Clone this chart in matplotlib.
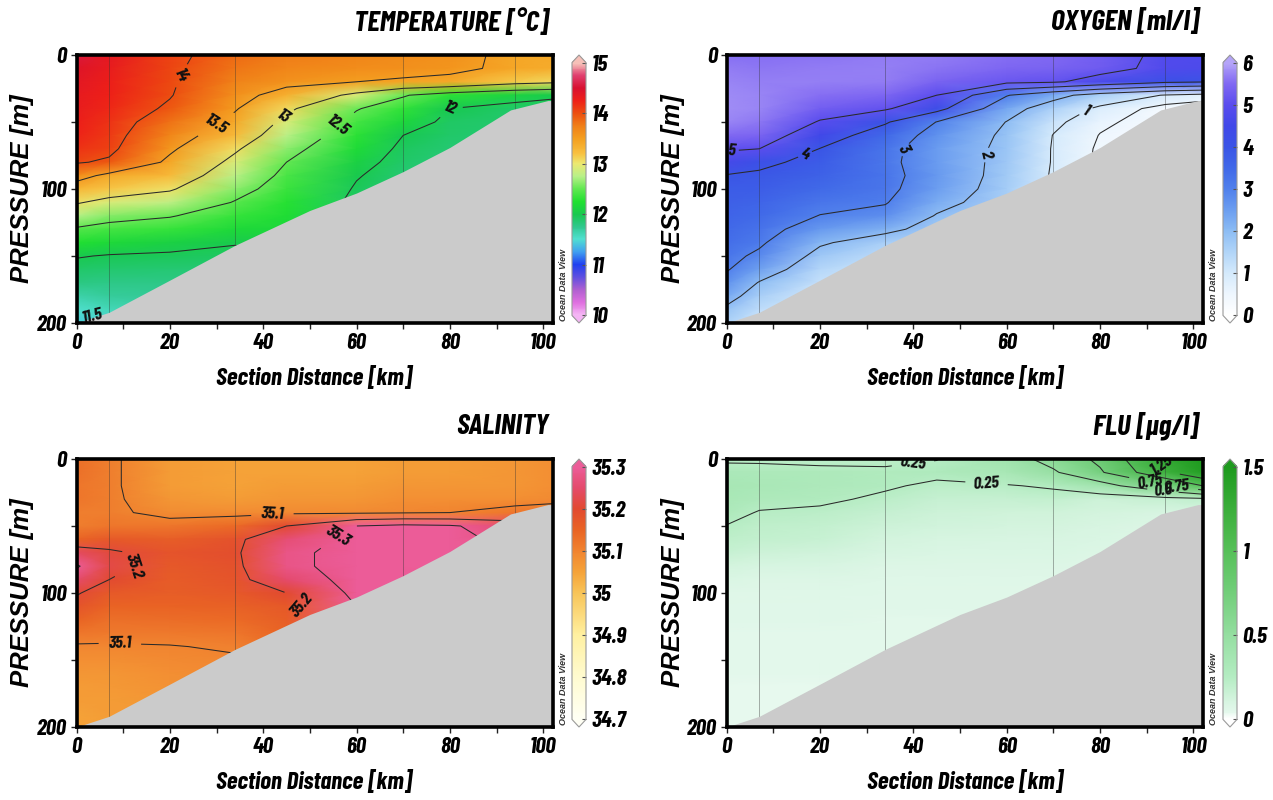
import numpy as np
import matplotlib
matplotlib.use("Agg")
import matplotlib.pyplot as plt
from matplotlib.colors import LinearSegmentedColormap, Normalize
from matplotlib.cm import ScalarMappable
from matplotlib.ticker import MultipleLocator, FixedLocator

# ---------------- data ----------------
distance_km = [0, 7, 20, 34, 45, 60, 70, 80, 94, 102]
pressure_m = [0, 10, 20, 30, 40, 50, 60, 70, 80, 90, 100,
              110, 120, 130, 140, 150, 160, 170, 180, 190, 200]
station_km = [7, 34, 70, 94]
bottom_km = [0, 7, 20, 34, 50, 60, 70, 80, 93, 101, 102]
bottom_m = [200, 192, 168, 142, 116, 103, 87, 69, 41, 34, 34]

# one profile (0..200 m) per station in distance_km
temperature = [
    [14.55, 14.42, 14.36, 14.33, 14.3, 14.27, 14.22, 14.15, 14.03, 13.65, 13.3, 13.03, 12.75, 12.46, 12.25, 12.02, 11.9, 11.8, 11.66, 11.52, 11.42],
    [14.35, 14.3, 14.27, 14.24, 14.2, 14.15, 14.12, 14.08, 13.95, 13.4, 13.18, 12.9, 12.6, 12.4, 12.18, 11.98, 11.88, 11.78, 11.7, 11.6, 11.48],
    [14.08, 14.06, 14.04, 14.02, 13.95, 13.82, 13.7, 13.56, 13.42, 13.25, 13.04, 12.78, 12.52, 12.34, 12.1, 11.96, 11.86, 11.78, 11.72, 11.66, 11.6],
    [13.85, 13.8, 13.72, 13.63, 13.53, 13.4, 13.25, 13.05, 12.9, 12.76, 12.62, 12.48, 12.34, 12.18, 12.02, 11.92, 11.86, 11.8, 11.75, 11.7, 11.65],
    [13.75, 13.7, 13.6, 13.35, 13.08, 12.9, 12.76, 12.62, 12.5, 12.42, 12.35, 12.28, 12.22, 12.16, 12.1, 12.04, 11.98, 11.94, 11.9, 11.86, 11.82],
    [13.7, 13.65, 13.5, 12.9, 12.52, 12.4, 12.3, 12.2, 12.1, 12.02, 11.97, 11.93, 11.9, 11.88, 11.86, 11.84, 11.82, 11.8, 11.78, 11.76, 11.74],
    [13.65, 13.62, 13.45, 12.53, 12.32, 12.15, 12.0, 11.94, 11.9, 11.87, 11.85, 11.83, 11.81, 11.8, 11.79, 11.78, 11.77, 11.76, 11.75, 11.74, 11.73],
    [13.6, 13.58, 13.4, 12.3, 12.0, 11.93, 11.9, 11.87, 11.85, 11.83, 11.82, 11.81, 11.8, 11.79, 11.78, 11.77, 11.76, 11.75, 11.74, 11.73, 11.72],
    [13.42, 13.42, 13.15, 12.12, 11.9, 11.88, 11.86, 11.85, 11.84, 11.83, 11.82, 11.81, 11.8, 11.79, 11.78, 11.77, 11.76, 11.75, 11.74, 11.73, 11.72],
    [13.4, 13.38, 13.08, 12.05, 11.88, 11.86, 11.85, 11.84, 11.83, 11.82, 11.81, 11.8, 11.79, 11.78, 11.77, 11.76, 11.75, 11.74, 11.73, 11.72, 11.71],
]
oxygen = [
    [5.55, 5.65, 5.72, 5.78, 5.8, 5.72, 5.5, 5.08, 4.6, 3.95, 3.8, 3.7, 3.6, 3.48, 3.36, 3.22, 3.06, 2.7, 2.3, 1.85, 1.5],
    [5.55, 5.62, 5.68, 5.72, 5.72, 5.62, 5.42, 5.0, 4.15, 3.9, 3.75, 3.6, 3.45, 3.3, 3.12, 2.85, 2.45, 1.95, 1.6, 1.3, 1.1],
    [5.6, 5.65, 5.68, 5.55, 5.3, 4.95, 4.5, 3.98, 3.8, 3.65, 3.45, 3.22, 2.98, 2.6, 2.1, 1.75, 1.45, 1.2, 1.0, 0.9, 0.8],
    [5.65, 5.68, 5.65, 5.45, 5.1, 4.1, 3.5, 3.25, 3.2, 3.25, 3.2, 3.05, 2.75, 2.2, 1.6, 1.3, 1.1, 0.95, 0.85, 0.8, 0.75],
    [5.65, 5.6, 5.4, 5.0, 4.3, 2.98, 2.7, 2.55, 2.55, 2.6, 2.5, 2.25, 1.95, 1.7, 1.5, 1.3, 1.1, 1.0, 0.9, 0.85, 0.8],
    [5.55, 5.45, 5.2, 3.05, 2.35, 1.98, 1.85, 1.8, 1.75, 1.7, 1.65, 1.6, 1.55, 1.5, 1.45, 1.4, 1.35, 1.3, 1.25, 1.2, 1.15],
    [5.5, 5.4, 5.1, 2.3, 1.55, 1.15, 0.98, 0.95, 0.95, 0.92, 0.9, 0.88, 0.86, 0.84, 0.82, 0.8, 0.78, 0.76, 0.74, 0.72, 0.7],
    [5.3, 5.25, 4.7, 1.6, 0.85, 0.6, 0.48, 0.42, 0.4, 0.38, 0.36, 0.35, 0.34, 0.33, 0.32, 0.31, 0.3, 0.3, 0.3, 0.3, 0.3],
    [4.85, 4.8, 4.15, 0.95, 0.3, 0.25, 0.22, 0.2, 0.2, 0.2, 0.2, 0.2, 0.2, 0.2, 0.2, 0.2, 0.2, 0.2, 0.2, 0.2, 0.2],
    [4.8, 4.75, 4.05, 0.75, 0.2, 0.18, 0.17, 0.16, 0.16, 0.16, 0.16, 0.16, 0.16, 0.16, 0.16, 0.16, 0.16, 0.16, 0.16, 0.16, 0.16],
]
salinity = [
    [35.13, 35.13, 35.12, 35.12, 35.11, 35.11, 35.15, 35.24, 35.31, 35.25, 35.205, 35.18, 35.15, 35.12, 35.095, 35.08, 35.07, 35.06, 35.06, 35.05, 35.05],
    [35.11, 35.11, 35.11, 35.11, 35.11, 35.12, 35.17, 35.21, 35.22, 35.2, 35.17, 35.15, 35.13, 35.115, 35.095, 35.08, 35.07, 35.065, 35.06, 35.06, 35.055],
    [35.06, 35.06, 35.06, 35.07, 35.085, 35.12, 35.16, 35.18, 35.17, 35.165, 35.16, 35.15, 35.135, 35.115, 35.098, 35.09, 35.08, 35.075, 35.07, 35.065, 35.06],
    [35.05, 35.05, 35.05, 35.06, 35.085, 35.14, 35.185, 35.19, 35.185, 35.18, 35.17, 35.155, 35.14, 35.12, 35.105, 35.095, 35.09, 35.085, 35.08, 35.08, 35.08],
    [35.05, 35.05, 35.06, 35.07, 35.09, 35.2, 35.26, 35.28, 35.28, 35.25, 35.2, 35.17, 35.16, 35.15, 35.14, 35.13, 35.12, 35.11, 35.1, 35.1, 35.1],
    [35.05, 35.05, 35.06, 35.07, 35.09, 35.3, 35.32, 35.33, 35.33, 35.33, 35.32, 35.3, 35.28, 35.26, 35.24, 35.22, 35.2, 35.2, 35.2, 35.2, 35.2],
    [35.06, 35.06, 35.07, 35.08, 35.095, 35.32, 35.33, 35.33, 35.33, 35.32, 35.3, 35.28, 35.26, 35.24, 35.22, 35.2, 35.2, 35.2, 35.2, 35.2, 35.2],
    [35.06, 35.06, 35.07, 35.08, 35.1, 35.31, 35.32, 35.32, 35.3, 35.28, 35.26, 35.24, 35.22, 35.2, 35.2, 35.2, 35.2, 35.2, 35.2, 35.2, 35.2],
    [35.07, 35.07, 35.07, 35.08, 35.12, 35.25, 35.28, 35.28, 35.27, 35.26, 35.24, 35.22, 35.2, 35.2, 35.2, 35.2, 35.2, 35.2, 35.2, 35.2, 35.2],
    [35.08, 35.08, 35.08, 35.09, 35.12, 35.2, 35.22, 35.22, 35.22, 35.22, 35.22, 35.2, 35.2, 35.2, 35.2, 35.2, 35.2, 35.2, 35.2, 35.2, 35.2],
]
flu = [
    [0.22, 0.32, 0.35, 0.33, 0.3, 0.245, 0.21, 0.17, 0.12, 0.09, 0.07, 0.06, 0.06, 0.05, 0.05, 0.05, 0.05, 0.04, 0.04, 0.04, 0.04],
    [0.22, 0.31, 0.33, 0.3, 0.24, 0.21, 0.19, 0.15, 0.11, 0.08, 0.07, 0.06, 0.06, 0.05, 0.05, 0.05, 0.05, 0.04, 0.04, 0.04, 0.04],
    [0.2, 0.3, 0.3, 0.28, 0.22, 0.19, 0.17, 0.13, 0.1, 0.08, 0.07, 0.06, 0.06, 0.05, 0.05, 0.05, 0.05, 0.04, 0.04, 0.04, 0.04],
    [0.21, 0.28, 0.27, 0.22, 0.18, 0.15, 0.12, 0.1, 0.08, 0.07, 0.06, 0.06, 0.05, 0.05, 0.05, 0.05, 0.04, 0.04, 0.04, 0.04, 0.04],
    [0.245, 0.29, 0.22, 0.18, 0.15, 0.13, 0.11, 0.09, 0.08, 0.07, 0.06, 0.06, 0.05, 0.05, 0.05, 0.04, 0.04, 0.04, 0.04, 0.04, 0.04],
    [0.4, 0.35, 0.24, 0.18, 0.14, 0.12, 0.1, 0.09, 0.08, 0.07, 0.06, 0.06, 0.05, 0.05, 0.05, 0.04, 0.04, 0.04, 0.04, 0.04, 0.04],
    [0.58, 0.47, 0.27, 0.19, 0.14, 0.12, 0.1, 0.09, 0.08, 0.07, 0.06, 0.06, 0.05, 0.05, 0.05, 0.04, 0.04, 0.04, 0.04, 0.04, 0.04],
    [0.8, 0.72, 0.4, 0.15, 0.12, 0.1, 0.09, 0.08, 0.07, 0.06, 0.06, 0.05, 0.05, 0.05, 0.04, 0.04, 0.04, 0.04, 0.04, 0.04, 0.04],
    [1.32, 1.22, 0.72, 0.18, 0.1, 0.08, 0.07, 0.06, 0.06, 0.05, 0.05, 0.05, 0.04, 0.04, 0.04, 0.04, 0.04, 0.04, 0.04, 0.04, 0.04],
    [1.5, 1.45, 1.0, 0.2, 0.1, 0.08, 0.07, 0.06, 0.06, 0.05, 0.05, 0.05, 0.04, 0.04, 0.04, 0.04, 0.04, 0.04, 0.04, 0.04, 0.04],
]

titles = ["TEMPERATURE [°C]", "OXYGEN [ml/l]", "SALINITY", "FLU [µg/l]"]
cbar_ticks = [[10, 11, 12, 13, 14, 15], [0, 1, 2, 3, 4, 5, 6],
              [34.7, 34.8, 34.9, 35.0, 35.1, 35.2, 35.3], [0, 0.5, 1, 1.5]]
contour_levels = [[11.5, 12, 12.5, 13, 13.5, 14], [0.5, 1, 2, 3, 4, 5],
                  [35.1, 35.2, 35.3], [0.25, 0.5, 0.75, 1, 1.25]]
x_ticks = [0, 20, 40, 60, 80, 100]
y_ticks = [0, 100, 200]

# ---------------- styles ----------------
temp_stops = [(10.0, "#f4b4f4"), (10.25, "#e070e0"), (10.5, "#b060d0"), (10.75, "#6050e0"),
              (11.0, "#2040f0"), (11.25, "#40a0f0"), (11.5, "#50e0d0"), (11.75, "#30c890"),
              (12.0, "#18c850"), (12.25, "#20e030"), (12.5, "#60e850"), (12.75, "#b8f088"),
              (13.0, "#ece870"), (13.2, "#f8c040"), (13.5, "#f4a020"), (13.75, "#f08018"),
              (14.0, "#ec5010"), (14.25, "#ee2018"), (14.5, "#d81030"), (14.75, "#e04070"),
              (15.0, "#f6c0b8")]
oxy_stops = [(0, "#ffffff"), (0.5, "#eef6fe"), (1.0, "#d4eafc"), (1.5, "#b0d4f8"),
             (2.0, "#8cbcf4"), (2.5, "#6c9ef0"), (3.0, "#5080ec"), (3.5, "#4068e8"),
             (4.0, "#3a54e6"), (4.5, "#4048e8"), (5.0, "#5a4cee"), (5.5, "#8068f2"),
             (6.0, "#b4a4f8")]
sal_stops = [(34.7, "#fffff4"), (34.8, "#fffbd0"), (34.9, "#fff0a0"), (35.0, "#f8c458"),
             (35.05, "#f5a238"), (35.1, "#f18430"), (35.15, "#e96424"), (35.2, "#e24a30"),
             (35.25, "#e44a6c"), (35.3, "#ec5c98")]
flu_stops = [(0, "#ffffff"), (0.04, "#e4f8ec"), (0.1, "#d8f5e2"), (0.25, "#b4ecc2"),
             (0.5, "#94dea0"), (0.75, "#72ce7a"), (1.0, "#56c058"), (1.25, "#3aae3a"),
             (1.5, "#1e9a1e")]


def make_cmap(name, stops):
    lo, hi = stops[0][0], stops[-1][0]
    cm = LinearSegmentedColormap.from_list(
        name, [((v - lo) / (hi - lo), c) for v, c in stops])
    cm.set_under(stops[0][1])
    cm.set_over(stops[-1][1])
    return cm, lo, hi


NARROW = ["Barlow Condensed", "Liberation Sans", "DejaVu Sans"]
WIDE = ["Liberation Sans", "DejaVu Sans"]

fields = [temperature, oxygen, salinity, flu]
stops_all = [temp_stops, oxy_stops, sal_stops, flu_stops]
label_pos = [
    [(20, 11), (29, 47), (44, 45), (55.7, 52), (79.6, 38), (3.5, 194)],
    [(1, 72), (17, 76), (35.5, 65), (52.5, 72), (77, 42)],
    [(9.3, 137), (42, 43), (15.4, 78), (48.9, 106), (56, 57)],
    [(40, 6), (55.7, 17), (93.6, 3), (90.7, 17), (93.5, 23), (96.5, 21)],
]

W, H = 1273, 800
fig = plt.figure(figsize=(W / 100, H / 100), dpi=100)

ax_left = [76.5, 726.7]
ax_top = [55, 459]
ax_w, ax_h = 476, 268
cb_left = [572, 1223]

X, Y = np.meshgrid(distance_km, pressure_m)

for i in range(4):
    col, row = i % 2, i // 2
    l = ax_left[col] / W
    b = 1 - (ax_top[row] + ax_h) / H
    ax = fig.add_axes([l, b, ax_w / W, ax_h / H])
    cmap, lo, hi = make_cmap("c%d" % i, stops_all[i])
    Z = np.array(fields[i]).T
    ax.pcolormesh(X, Y, Z, shading="gouraud", cmap=cmap, vmin=lo, vmax=hi, zorder=1)
    cs = ax.contour(X, Y, Z, levels=contour_levels[i], colors="#2a2a2a",
                    linewidths=0.75, zorder=2)
    labs = ax.clabel(cs, manual=label_pos[i], inline=True, inline_spacing=2,
                     fmt=lambda v: f"{v:g}", fontsize=12.5)
    for t in labs:
        t.set_fontfamily(NARROW)
        t.set_fontweight("bold")
        t.set_fontstyle("italic")
        t.set_color("#111111")
        t.set_zorder(6)
    ax.vlines(station_km, 0, 200, colors="#333333", linewidths=0.6, alpha=0.45, zorder=3)
    ax.fill_between(bottom_km, bottom_m, 200, color="#cbcbcb", lw=0, zorder=5)
    ax.set_xlim(0, 102)
    ax.set_ylim(200, 0)
    ax.xaxis.set_major_locator(FixedLocator(x_ticks))
    ax.xaxis.set_minor_locator(MultipleLocator(10))
    ax.yaxis.set_major_locator(FixedLocator(y_ticks))
    ax.yaxis.set_minor_locator(MultipleLocator(50))
    ax.tick_params(which="both", direction="out", length=4, width=1, color="#222222")
    ax.tick_params(which="major", labelsize=16.5, pad=3)
    for lab in ax.get_xticklabels() + ax.get_yticklabels():
        lab.set_fontfamily(NARROW)
        lab.set_fontweight("bold")
        lab.set_fontstyle("italic")
    for s in ax.spines.values():
        s.set_linewidth(2.6)
        s.set_zorder(10)

    # title
    fig.text((ax_left[col] + ax_w - 4) / W, 1 - (ax_top[row] - 33) / H, titles[i],
             ha="right", va="center", fontsize=21, fontweight="bold",
             fontstyle="italic", family=NARROW)
    # axis labels
    fig.text((ax_left[col] + ax_w / 2) / W, 1 - (ax_top[row] + ax_h + 55) / H,
             "Section Distance [km]", ha="center", va="center", fontsize=18,
             fontweight="bold", fontstyle="italic", family=NARROW)
    fig.text((ax_left[col] - 54) / W, 1 - (ax_top[row] + ax_h / 2) / H,
             "PRESSURE [m]", ha="center", va="center", rotation=90, fontsize=18.5,
             fontweight="bold", fontstyle="italic", family=WIDE)
    # ODV mark
    fig.text((ax_left[col] + ax_w + 11) / W, 1 - (ax_top[row] + ax_h - 2) / H,
             "Ocean Data View", ha="center", va="bottom", rotation=90, fontsize=6.5,
             fontweight="bold", fontstyle="italic", family=WIDE, color="#333333")

    # colorbar
    cax = fig.add_axes([cb_left[col] / W, b, 14 / W, ax_h / H])
    sm = ScalarMappable(norm=Normalize(lo, hi), cmap=cmap)
    cb = fig.colorbar(sm, cax=cax, extend="both", extendfrac=0.03,
                      ticks=cbar_ticks[i])
    cb.outline.set_edgecolor("#9a9a9a")
    cb.outline.set_linewidth(0.8)
    cb.ax.tick_params(direction="in", length=3, width=0.8, color="#555555",
                      labelsize=16.5, pad=4)
    cb.ax.set_yticklabels([f"{v:g}" for v in cbar_ticks[i]])
    for lab in cb.ax.get_yticklabels():
        lab.set_fontfamily(NARROW)
        lab.set_fontweight("bold")
        lab.set_fontstyle("italic")

fig.savefig("out.png", dpi=100)
